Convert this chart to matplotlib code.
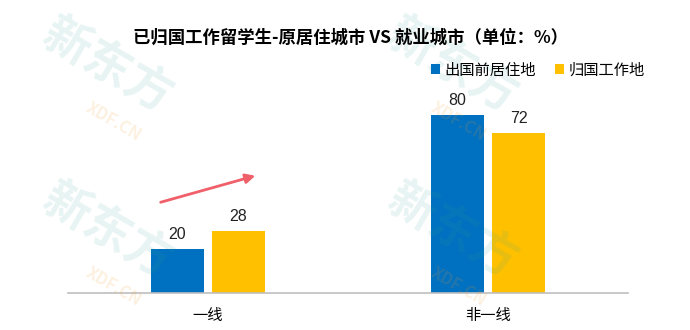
import numpy as np
import matplotlib.pyplot as plt

plt.rcParams['font.family'] = ['Noto Sans CJK SC', 'DejaVu Sans']

categories = ["一线", "非一线"]
before = [20, 80]
after = [28, 72]
labels = ["出国前居住地", "归国工作地"]
colors = ["#0070C0", "#FFC000"]

fig = plt.figure(figsize=(6.9, 3.3), dpi=100)

# faint watermark
for (wx, wy) in [(0.05, 0.80), (0.55, 0.80), (0.05, 0.30), (0.55, 0.30)]:
    fig.text(wx, wy, "新东方", fontsize=34, fontweight="bold", color="#3aa79a",
             alpha=0.12, rotation=-30, ha="left", va="center", zorder=0)
    fig.text(wx + 0.07, wy - 0.17, "XDF.CN", fontsize=12, fontweight="bold", color="#f0a030",
             alpha=0.15, rotation=-30, ha="left", va="center", zorder=0)

ax = fig.add_axes([68/690, 1 - 293/330, 560/690, 222.5/330])
ax.patch.set_alpha(0)

x = np.arange(len(categories))
w = 0.186
b1 = ax.bar(x - 0.109, before, w, color=colors[0], label=labels[0])
b2 = ax.bar(x + 0.109, after, w, color=colors[1], label=labels[1])
for bars in (b1, b2):
    for r in bars:
        ax.text(r.get_x() + r.get_width()/2, r.get_height() + 3, f"{r.get_height():g}",
                ha="center", va="bottom", fontsize=11.5, color="#222222",
                family=["Liberation Sans", "DejaVu Sans"])

ax.set_xlim(-0.5, 1.5)
ax.set_ylim(0, 100)
ax.set_xticks(x)
ax.set_xticklabels(categories, fontsize=11)
ax.tick_params(axis="x", length=0, pad=10)
ax.set_yticks([])
for s in ["top", "right", "left"]:
    ax.spines[s].set_visible(False)
ax.spines["bottom"].set_color("#BFBFBF")
ax.spines["bottom"].set_linewidth(1.2)

ax.annotate("", xy=(258/690, 1 - 175/330), xytext=(158/690, 1 - 203/330),
            xycoords="figure fraction", textcoords="figure fraction",
            arrowprops=dict(arrowstyle="-|>", color="#F0606A", lw=2, mutation_scale=14))

fig.text(0.508, 1 - 38/330, "已归国工作留学生-原居住城市 VS 就业城市（单位：%）",
         ha="center", va="center", fontsize=12.5, fontweight="bold")

fig.legend(loc="center left", bbox_to_anchor=(425/690, 1 - 70/330), ncol=2, frameon=False,
           fontsize=11, handlelength=0.6, handleheight=0.6, handletextpad=0.3,
           columnspacing=1.2, borderaxespad=0)

fig.savefig("out.png", dpi=100)
